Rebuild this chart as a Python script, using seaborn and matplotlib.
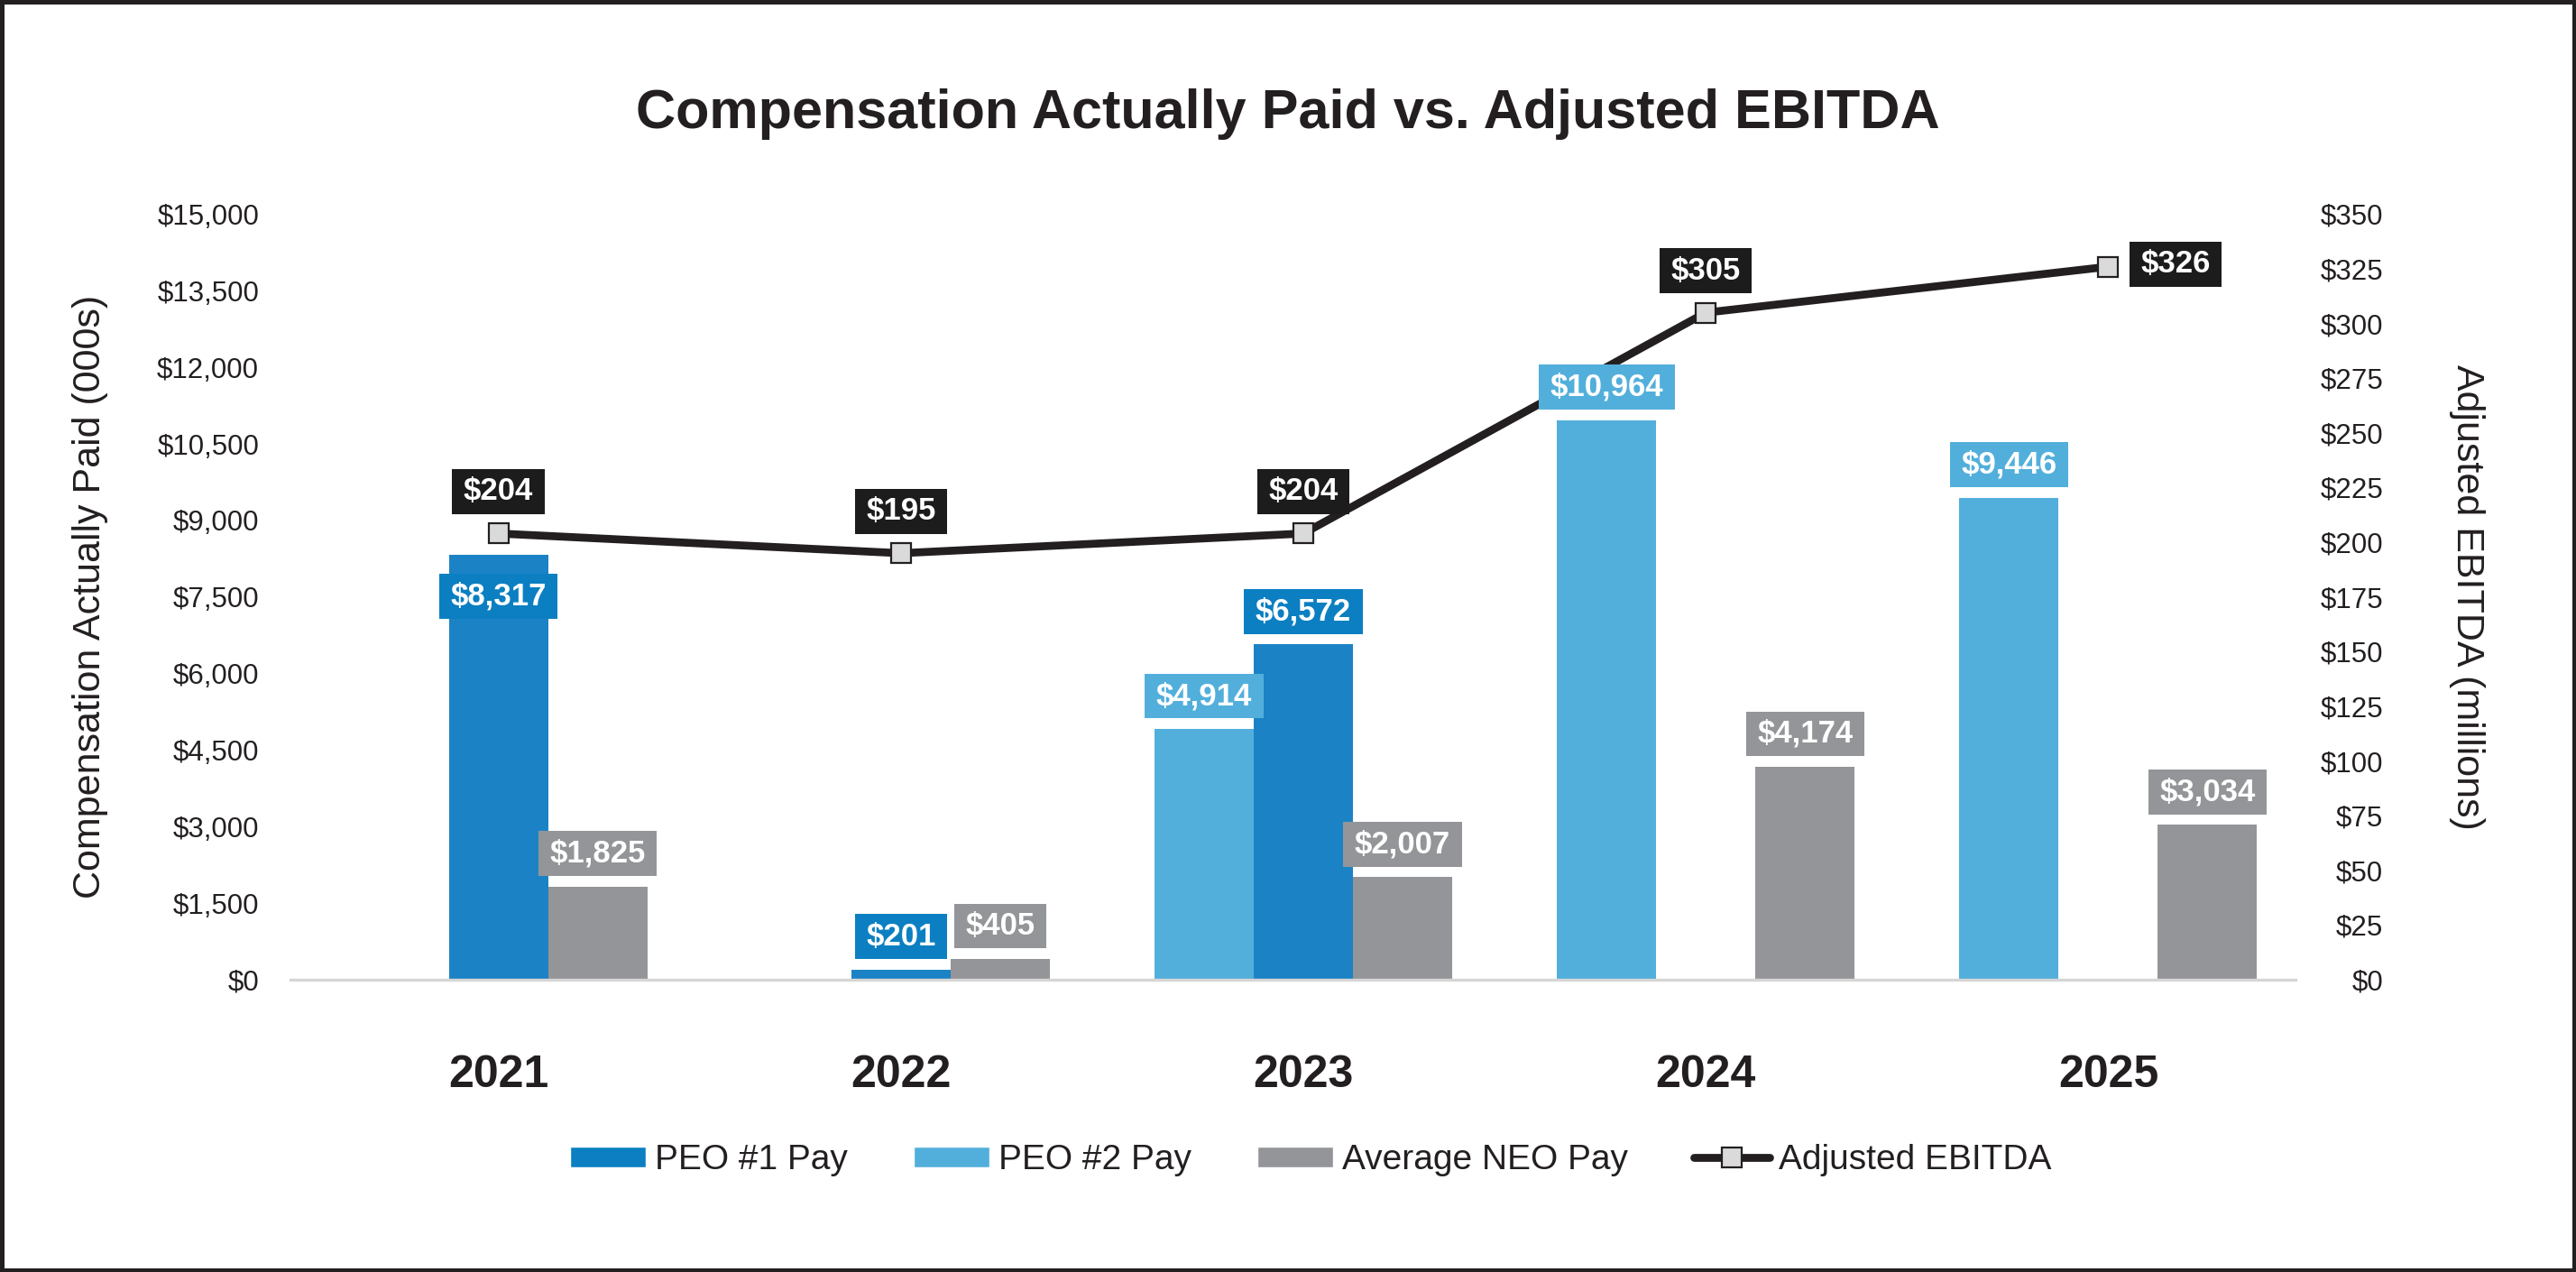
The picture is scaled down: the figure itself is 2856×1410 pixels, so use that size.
import numpy as np
import pandas as pd
import seaborn as sns
import matplotlib.pyplot as plt
from matplotlib.patches import Patch, Rectangle
from matplotlib.lines import Line2D
from matplotlib.path import Path

# values ($000s for pay, $M for EBITDA)
years = ['2021', '2022', '2023', '2024', '2025']
peo1_pay = [8317, 201, 6572, np.nan, np.nan]
peo2_pay = [np.nan, np.nan, 4914, 10964, 9446]
neo_pay = [1825, 405, 2007, 4174, 3034]
ebitda = [204, 195, 204, 305, 326]

# slot order inside each year group: left, centre, right
series = ['PEO #2 Pay', 'PEO #1 Pay', 'Average NEO Pay']
values = {'PEO #2 Pay': peo2_pay, 'PEO #1 Pay': peo1_pay, 'Average NEO Pay': neo_pay}
bar_colors = {'PEO #1 Pay': '#1b83c5', 'PEO #2 Pay': '#52afdb', 'Average NEO Pay': '#949598'}
label_colors = {'PEO #1 Pay': '#0b7fc1', 'PEO #2 Pay': '#52afdb', 'Average NEO Pay': '#939598'}
dark = '#231f20'

df = pd.DataFrame({'year': years * 3,
                   'series': np.repeat(series, len(years)),
                   'pay': peo2_pay + peo1_pay + neo_pay}).dropna()


def label_box(x0, y0, width, height, mutation_size):
    # wider padding left/right than top/bottom, like the excel data labels
    px, py = 0.36 * mutation_size, 0.24 * mutation_size
    x1, y1 = x0 + width + px, y0 + height + py
    x0, y0 = x0 - px, y0 - py
    return Path([(x0, y0), (x1, y0), (x1, y1), (x0, y1), (x0, y0)], closed=True)


sns.set_style('white')
plt.rcParams['font.family'] = ['Liberation Sans', 'DejaVu Sans']

fig = plt.figure(figsize=(28.56, 14.10), dpi=100)
ax = fig.add_axes([0.1127, 0.2298, 0.7784, 0.6018])

group_w = 0.7395
sns.barplot(data=df, x='year', y='pay', hue='series', order=years, hue_order=series,
            palette=bar_colors, width=group_w, saturation=1, linewidth=0,
            errorbar=None, legend=False, ax=ax)

ax.set_xlim(-0.517, 4.465)
ax.set_ylim(0, 15000)
ax.set_yticks(np.arange(0, 15001, 1500))
ax.yaxis.set_major_formatter(lambda v, p: f'${v:,.0f}')
ax.set_xlabel('')
ax.set_ylabel('Compensation Actually Paid (000s)', fontsize=31, color=dark, va='center')
ax.yaxis.set_label_coords(-0.0999, 0.5)
ax.tick_params(axis='y', length=0, pad=25, labelsize=22.5, labelcolor=dark)
ax.tick_params(axis='x', length=0, pad=60, labelsize=36, labelcolor=dark)
for t in ax.get_xticklabels():
    t.set_fontweight('bold')
sns.despine(ax=ax, left=True, top=True, right=True)
ax.spines['bottom'].set_color('#d6d6d6')
ax.spines['bottom'].set_linewidth(2.4)

# EBITDA line on the secondary axis
ax2 = ax.twinx()
sns.lineplot(x=np.arange(len(years)), y=ebitda, ax=ax2, color=dark, lw=6.3,
             marker='s', markersize=15.5, markerfacecolor='#dadada',
             markeredgecolor=dark, markeredgewidth=1.6, legend=False)
ax2.set_ylim(0, 350)
ax2.set_yticks(np.arange(0, 351, 25))
ax2.yaxis.set_major_formatter(lambda v, p: f'${v:,.0f}')
ax2.tick_params(axis='y', length=0, pad=70, labelsize=22.5, labelcolor=dark)
plt.setp(ax2.get_yticklabels(), ha='right')
ax2.set_ylabel('Adjusted EBITDA (millions)', fontsize=31, color=dark, rotation=270, va='center')
ax2.yaxis.set_label_coords(1.0855, 0.5)
for s in ax2.spines.values():
    s.set_visible(False)

# bar value labels
slot_w = group_w / len(series)
for k, name in enumerate(series):
    for i, v in enumerate(values[name]):
        if np.isnan(v):
            continue
        inside = name == 'PEO #1 Pay' and i == 0
        ax2.annotate(f'${v:,.0f}', xy=(i + (k - 1) * slot_w, v), xycoords=ax.transData,
                     xytext=(0, -21 if inside else 14.4), textcoords='offset points',
                     ha='center', va='top' if inside else 'bottom',
                     fontsize=25, fontweight='bold', color='white',
                     bbox=dict(boxstyle=label_box, fc=label_colors[name], ec='none'))

# EBITDA labels
for i, v in enumerate(ebitda):
    last = i == len(ebitda) - 1
    ax2.annotate(f'${v:,.0f}', xy=(i, v),
                 xytext=(25.6, 2) if last else (0, 21.6), textcoords='offset points',
                 ha='left' if last else 'center', va='center' if last else 'bottom',
                 fontsize=25, fontweight='bold', color='white',
                 bbox=dict(boxstyle=label_box, fc='#1c1c1c', ec='none'))

handles = [Patch(fc='#0b7fc1'), Patch(fc='#52afdb'), Patch(fc='#949598'),
           Line2D([], [], color=dark, lw=6.3, marker='s', ms=15.5, mfc='#dadada',
                  mec=dark, mew=1.6, solid_capstyle='round')]
labels = ['PEO #1 Pay', 'PEO #2 Pay', 'Average NEO Pay', 'Adjusted EBITDA']
fig.legend(handles, labels, loc='center', bbox_to_anchor=(0.5088, 0.0879), ncol=4,
           frameon=False, fontsize=28, handlelength=2.16, handleheight=0.54,
           handletextpad=0.26, columnspacing=1.88, labelcolor=dark)

fig.text(0.5, 0.910, 'Compensation Actually Paid vs. Adjusted EBITDA', ha='center', va='center',
         fontsize=44, fontweight='bold', color=dark)

fig.patches.append(Rectangle((0, 0), 1, 1, transform=fig.transFigure, fill=False,
                             lw=6.5, ec=dark))

fig.savefig('out.png', dpi=100)
